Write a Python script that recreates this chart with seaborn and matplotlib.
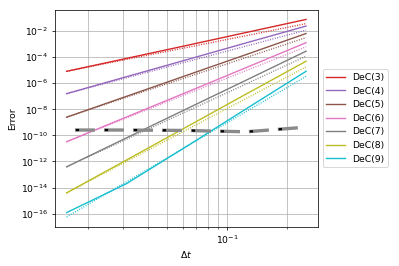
"""Convergence plot of DeC methods: error against time step on log-log axes."""

import matplotlib
matplotlib.use("Agg")
import matplotlib.pyplot as plt
import numpy as np
import pandas as pd
import seaborn as sns
from matplotlib.ticker import LogFormatterSciNotation, NullFormatter, NullLocator


DT = [1 / 64, 1 / 32, 1 / 16, 1 / 8, 1 / 4]
METHODS = ["DeC(3)", "DeC(4)", "DeC(5)", "DeC(6)", "DeC(7)", "DeC(8)", "DeC(9)"]
COLORS = ["#d62728", "#9467bd", "#8c564b", "#e377c2", "#7f7f7f", "#bcbd22", "#17becf"]

# measured errors (solid lines)
ERR_DEC3 = [8.3e-6, 8.1e-5, 7.9e-4, 7.9e-3, 7.9e-2]
ERR_DEC4 = [1.6e-7, 3.2e-6, 6.3e-5, 1.26e-3, 2.45e-2]
ERR_DEC5 = [2.5e-9, 1.0e-7, 4.0e-6, 1.6e-4, 6.6e-3]
ERR_DEC6 = [3.3e-11, 2.6e-9, 2.0e-7, 1.6e-5, 1.3e-3]
ERR_DEC7 = [3.9e-13, 6.5e-11, 1.07e-8, 1.74e-6, 2.9e-4]
ERR_DEC8 = [3.9e-15, 1.3e-12, 4.4e-10, 1.5e-7, 4.9e-5]
ERR_DEC9 = [1.2e-16, 2.0e-14, 1.4e-11, 1.1e-8, 8.3e-6]

# expected-order reference slopes (dotted lines)
REF_DEC3 = [8.3e-6, 6.8e-5, 5.5e-4, 4.5e-3, 3.8e-2]
REF_DEC4 = [1.6e-7, 2.6e-6, 4.4e-5, 7.2e-4, 1.2e-2]
REF_DEC5 = [2.5e-9, 8.5e-8, 2.8e-6, 9.5e-5, 3.2e-3]
REF_DEC6 = [3.3e-11, 2.2e-9, 1.45e-7, 9.5e-6, 6.3e-4]
REF_DEC7 = [3.9e-13, 5.1e-11, 6.8e-9, 8.9e-7, 1.2e-4]
REF_DEC8 = [3.9e-15, 1.0e-12, 2.6e-10, 6.9e-8, 1.8e-5]
REF_DEC9 = [5.5e-17, 2.75e-14, 1.4e-11, 6.8e-9, 3.4e-6]

# tolerance level (thick dashed line)
TOL = [2.6e-10, 2.6e-10, 2.4e-10, 1.9e-10, 4.3e-10]

ERRORS = [ERR_DEC3, ERR_DEC4, ERR_DEC5, ERR_DEC6, ERR_DEC7, ERR_DEC8, ERR_DEC9]
REFS = [REF_DEC3, REF_DEC4, REF_DEC5, REF_DEC6, REF_DEC7, REF_DEC8, REF_DEC9]


def _long_frame(series):
    rows = []
    for name, values in zip(METHODS, series):
        for dt, val in zip(DT, values):
            rows.append({"dt": dt, "error": val, "method": name})
    return pd.DataFrame(rows)


plt.rcParams["lines.scale_dashes"] = False

fig = plt.figure(figsize=(6, 4), dpi=66.5)
ax = fig.add_axes([0.137, 0.147, 0.66, 0.817])
ax.set_xscale("log")
ax.set_yscale("log")

palette = dict(zip(METHODS, COLORS))
err_df = _long_frame(ERRORS)
ref_df = _long_frame(REFS)

sns.lineplot(data=err_df, x="dt", y="error", hue="method", palette=palette,
             linewidth=1.5, ax=ax)
sns.lineplot(data=ref_df, x="dt", y="error", hue="method", palette=palette,
             linewidth=1.5, linestyle=":", legend=False, ax=ax)

# thick grey dashes with a short black piece at the start of each dash
tol_df = pd.DataFrame({"dt": DT, "error": TOL})
sns.lineplot(data=tol_df, x="dt", y="error", color="#8a8a8a", linewidth=3.6,
             linestyle=(22.4, (21.7, 9.7)), legend=False, ax=ax)
sns.lineplot(data=tol_df, x="dt", y="error", color="black", linewidth=2.4,
             linestyle=(21.4, (3.5, 27.9)), legend=False, ax=ax)

ax.set_yticks(10.0 ** np.arange(-16, -1, 2))
ax.yaxis.set_major_formatter(LogFormatterSciNotation())
ax.yaxis.set_minor_locator(NullLocator())
ax.xaxis.set_minor_formatter(NullFormatter())

ax.grid(True, which="major", color="#b0b0b0", linewidth=0.8)
ax.grid(True, which="minor", axis="x", color="#b0b0b0", linewidth=0.8)
ax.set_axisbelow(True)

ax.set_xlabel(r"$\Delta t$")
ax.set_ylabel("Error")

sns.move_legend(ax, "center left", bbox_to_anchor=(1.0, 0.5), title=None)

fig.savefig("out.png", dpi=66.5)
